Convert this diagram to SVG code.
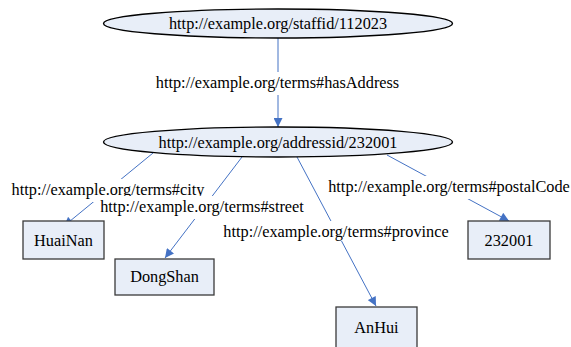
<svg xmlns="http://www.w3.org/2000/svg" width="571" height="347" viewBox="0 0 571 347">
<style>
text{font-size:16.3px;fill:#000;text-anchor:middle}
.res{fill:#e8eef8;stroke:#000;stroke-width:1.4}
.lit{fill:#e8eef8;stroke:#3a3a3a;stroke-width:1.3}
.edge{stroke:#4472c4;stroke-width:1;fill:none;marker-end:url(#arr)}
.bg{fill:#fff}
</style>
<defs>
<marker id="arr" viewBox="0 0 10 10" refX="10" refY="5" markerWidth="10" markerHeight="9" markerUnits="userSpaceOnUse" orient="auto">
<path d="M0,0 L10,5 L0,10 z" fill="#4472c4"/>
</marker>
</defs>
<rect width="571" height="347" fill="#fff"/>
<g font-family="'Liberation Serif', 'DejaVu Serif', serif">
<g id="connectors">
<line class="edge" x1="278" y1="38" x2="278" y2="127"/>
<line class="edge" x1="153" y1="153" x2="64" y2="226"/>
<line class="edge" x1="242" y1="157" x2="165" y2="258"/>
<line class="edge" x1="297" y1="157" x2="376" y2="306"/>
<line class="edge" x1="387" y1="155" x2="509" y2="221"/>
<g id="edge-labels">
<rect class="bg" x="153" y="72" width="250" height="23"/>
<text x="277.5" y="88">http://example.org/terms#hasAddress</text>
<rect class="bg" x="10" y="179" width="196" height="23"/>
<text x="108" y="195">http://example.org/terms#city</text>
<rect class="bg" x="99" y="196" width="206" height="23"/>
<text x="202" y="212">http://example.org/terms#street</text>
<rect class="bg" x="221" y="221" width="231" height="20"/>
<text x="336" y="237">http://example.org/terms#province</text>
<rect class="bg" x="327" y="176" width="244" height="23"/>
<text x="449" y="192">http://example.org/terms#postalCode</text>
</g>
</g>
<g id="staff">
<ellipse class="res" cx="278" cy="23.5" rx="174.5" ry="14.5"/>
<text x="278" y="29">http://example.org/staffid/112023</text>
</g>
<g id="address">
<ellipse class="res" cx="278" cy="142" rx="174.5" ry="15"/>
<text x="278" y="148">http://example.org/addressid/232001</text>
</g>
<g id="huainan">
<rect class="lit" x="23" y="221" width="81" height="38"/>
<text x="63.5" y="246">HuaiNan</text>
</g>
<g id="dongshan">
<rect class="lit" x="115" y="259" width="99" height="36"/>
<text x="164.5" y="282">DongShan</text>
</g>
<g id="anhui">
<rect class="lit" x="336" y="307" width="81" height="45"/>
<text x="376.5" y="333">AnHui</text>
</g>
<g id="postal">
<rect class="lit" x="468" y="221" width="82" height="38"/>
<text x="509" y="246">232001</text>
</g>
</g>
</svg>
